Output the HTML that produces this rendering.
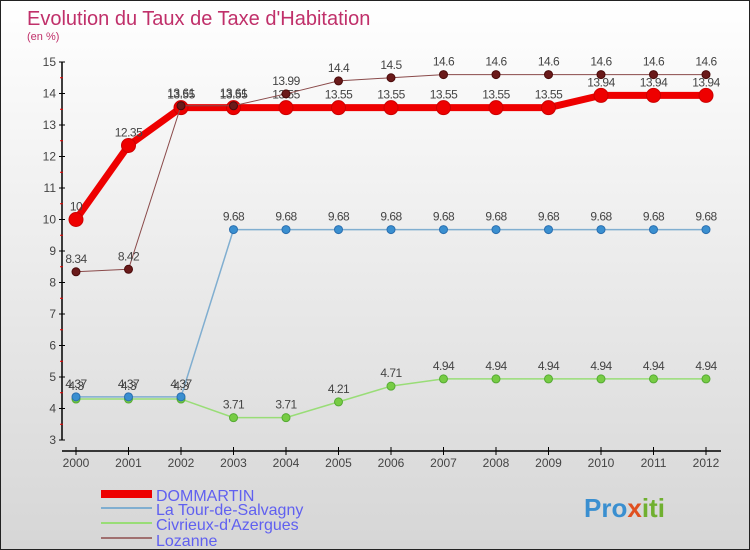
<!DOCTYPE html>
<html><head><meta charset="utf-8"><style>
body{margin:0}
#c{width:750px;height:550px;position:relative;box-sizing:border-box;border:1px solid #222;background:linear-gradient(#ffffff,#d6d6d6);font-family:"Liberation Sans","DejaVu Sans",sans-serif;overflow:hidden}
</style></head><body>
<div id="c">
<svg id="s" width="750" height="550" style="position:absolute;left:0;top:0">
<text x="26" y="24" font-size="20" fill="#c0306a">Evolution du Taux de Taxe d'Habitation</text>
<text x="26" y="39" font-size="11" fill="#c0306a">(en %)</text>
<g id="plot"></g>
<g>
<rect x="100" y="489" width="51" height="8" fill="#e00"/>
<text x="155" y="500" font-size="16" fill="#6060f0">DOMMARTIN</text>
<rect x="100" y="506" width="51" height="2" fill="#80aed0"/>
<text x="155" y="514" font-size="16" fill="#6060f0">La Tour-de-Salvagny</text>
<rect x="100" y="521" width="51" height="2" fill="#99dd77"/>
<text x="155" y="529" font-size="16" fill="#6060f0">Civrieux-d'Azergues</text>
<rect x="100" y="536" width="51" height="2" fill="#a07070"/>
<text x="155" y="545" font-size="16" fill="#6060f0">Lozanne</text>
</g>
<text x="583" y="516" font-size="26" font-weight="bold"><tspan fill="#3a8fd0">Pro</tspan><tspan fill="#e05020">x</tspan><tspan fill="#70b030">iti</tspan></text>
</svg>
</div>
<script>
const years=[2000,2001,2002,2003,2004,2005,2006,2007,2008,2009,2010,2011,2012];
const yTicks=[3,4,5,6,7,8,9,10,11,12,13,14,15];
const dommartin=[10,12.35,13.55,13.55,13.55,13.55,13.55,13.55,13.55,13.55,13.94,13.94,13.94];
const latour=[4.37,4.37,4.37,9.68,9.68,9.68,9.68,9.68,9.68,9.68,9.68,9.68,9.68];
const civrieux=[4.3,4.3,4.3,3.71,3.71,4.21,4.71,4.94,4.94,4.94,4.94,4.94,4.94];
const lozanne=[8.34,8.42,13.61,13.61,13.99,14.4,14.5,14.6,14.6,14.6,14.6,14.6,14.6];
const NS="http://www.w3.org/2000/svg";
const g=document.getElementById('plot');
const X=i=>75+i*52.5;
const Y=v=>439-(v-3)*31.5;
function el(t,a,p){const e=document.createElementNS(NS,t);for(const k in a)e.setAttribute(k,a[k]);(p||g).appendChild(e);return e;}
let a=el('line',{x1:61,y1:Y(15),x2:61,y2:Y(3),stroke:'#000','stroke-width':1.5});


a=el('line',{x1:61,y1:450,x2:720,y2:450,stroke:'#000','stroke-width':1.5});


yTicks.forEach(v=>{
 el('line',{x1:58,y1:Y(v),x2:64,y2:Y(v),stroke:'#000'});
 if(v<15)el('line',{x1:59,y1:Y(v+0.5),x2:62,y2:Y(v+0.5),stroke:'#e00'});
 const t=el('text',{x:55,y:Y(v)+4,'font-size':12,'text-anchor':'end',fill:'#444'});t.textContent=v;
 
 
});
years.forEach((yr,i)=>{
 el('line',{x1:X(i),y1:446,x2:X(i),y2:454,stroke:'#000'});
 const t=el('text',{x:X(i),y:466,'font-size':12,'text-anchor':'middle',fill:'#444'});t.textContent=yr;
 
 
});
function series(d,name,col,w,r,dot,stroke){
 const s=el('g',{});
 
 
 el('polyline',{points:d.map((v,i)=>X(i)+','+Y(v)).join(' '),fill:'none',stroke:col,'stroke-width':w,'stroke-linejoin':'round'},s);
 d.forEach((v,i)=>{
  const c=el('circle',{cx:X(i),cy:Y(v),r:r,fill:dot,stroke:stroke,'stroke-width':1},s);
  
  
  const t=el('text',{x:X(i),y:Y(v)-9,'font-size':12,'text-anchor':'middle',fill:'#444','letter-spacing':'-0.5'},s);
  t.textContent=String(v);
 });
}
series(civrieux,'civrieux','#99dd77',1.5,4,'#77cc44','#55aa33');
series(latour,'la-tour','#80aed0',1.5,4,'#3a8fd0','#2a6fb0');
series(dommartin,'dommartin','#ee0000',7,7,'#ee0000','#cc0000');
series(lozanne,'lozanne','#8a4a4a',1,4,'#6a1a1a','#4a0a0a');
</script>
</body></html>
